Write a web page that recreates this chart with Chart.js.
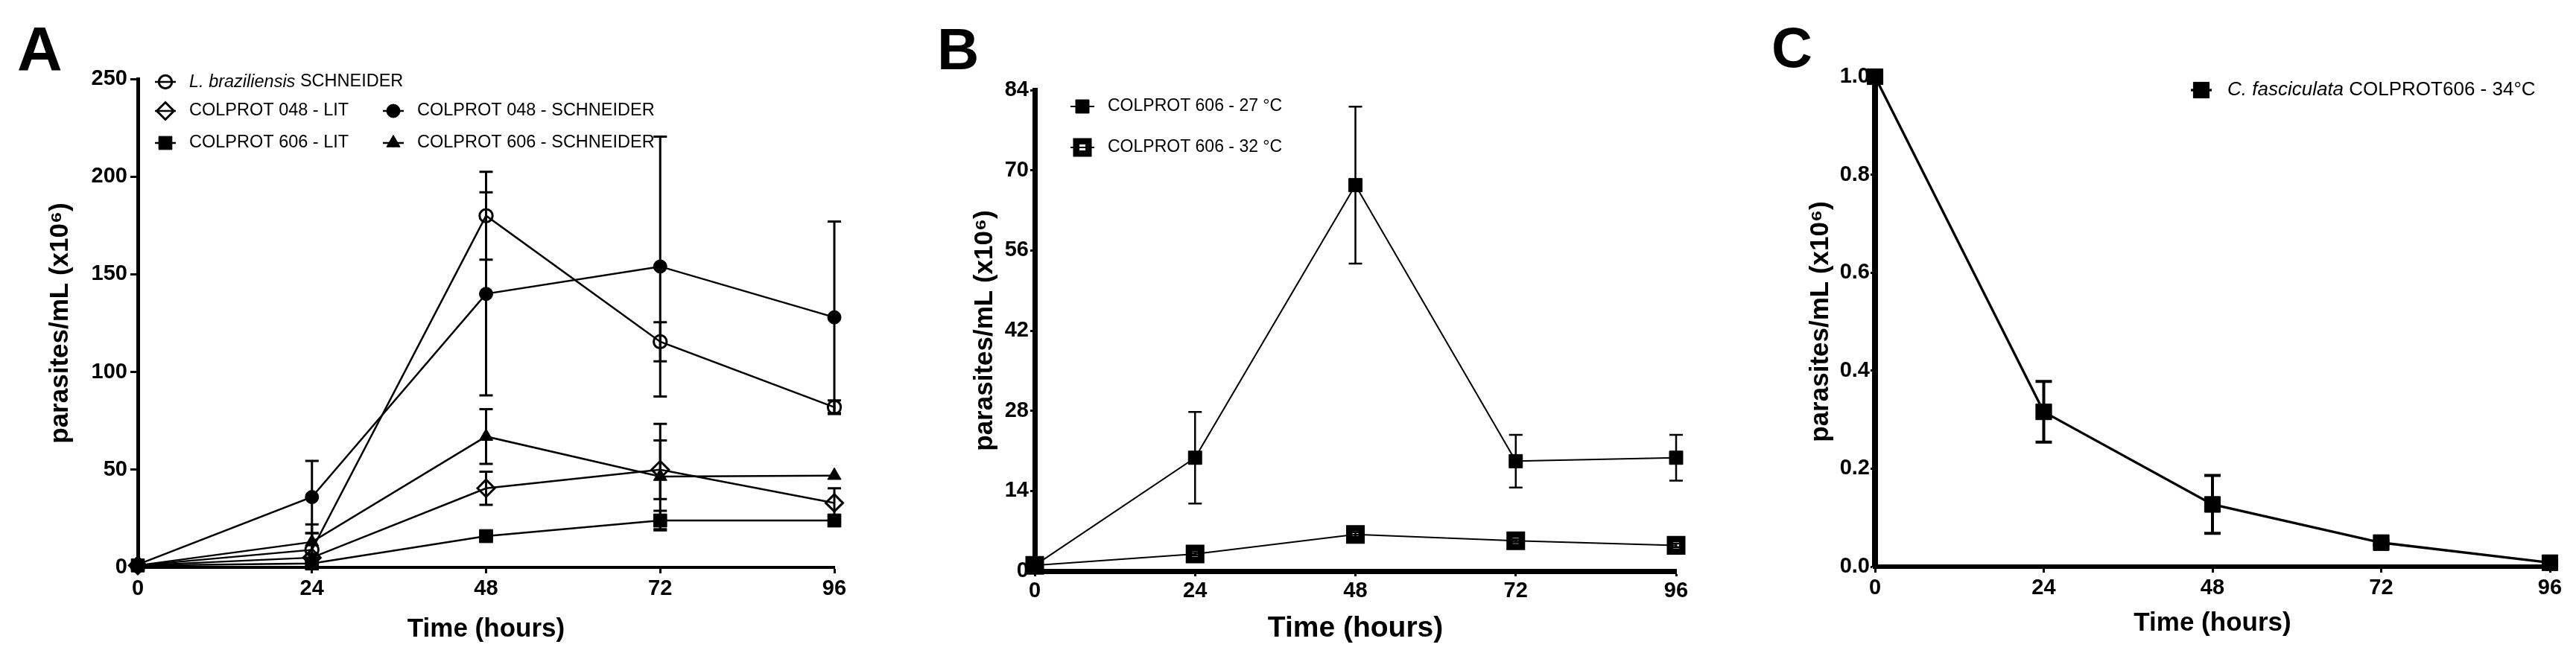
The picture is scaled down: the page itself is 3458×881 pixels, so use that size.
<!DOCTYPE html>
<html>
<head>
<meta charset="utf-8">
<script src="https://cdn.jsdelivr.net/npm/chart.js@4.4.1/dist/chart.umd.min.js"></script>
<style>
  html, body { margin: 0; padding: 0; background: #fff; }
  #wrap { position: relative; width: 3458px; height: 881px; }
  .panel { position: absolute; top: 0; height: 881px; }
</style>
</head>
<body>
<div id="wrap">
  <div class="panel" style="left:0;width:1150px"><canvas id="panelA"></canvas></div>
  <div class="panel" style="left:1150px;width:1150px"><canvas id="panelB"></canvas></div>
  <div class="panel" style="left:2300px;width:1158px"><canvas id="panelC"></canvas></div>
</div>
<script>
// time points (hours), shared by all three panels
const hours = [0, 24, 48, 72, 96];

// panel A - parasites/mL (x10^6), mean and error
const lbrazSchneider = [1, 9, 180, 115.5, 82];
const lbrazSchneiderErr = [0.5, 8.5, 22.5, 10, 3.5];
const c048Lit = [1, 5, 40.5, 50, 33];
const c048LitErr = [0.5, 2, 8.5, 15, 7.5];
const c048Schneider = [1.5, 36, 140, 154, 128];
const c048SchneiderErr = [0.5, 18.5, 52, 66.5, 49];
const c606Lit = [1, 2, 16, 24, 24];
const c606LitErr = [0.5, 0.5, 1, 5, 1];
const c606Schneider = [1, 13, 67, 46.5, 47];
const c606SchneiderErr = [0.5, 9, 14, 27, 0];
const yTicksA = [0, 50, 100, 150, 200, 250];

// panel B
const b27 = [1, 19.8, 67.4, 19.2, 19.8];
const b27Err = [0.3, 8, 13.7, 4.6, 4];
const b32 = [1, 3, 6.4, 5.3, 4.5];
const b32Err = [0, 0.3, 0.4, 0.3, 0.3];
const yTicksB = [0, 14, 28, 42, 56, 70, 84];

// panel C
const cFasc = [1.0, 0.316, 0.127, 0.049, 0.008];
const cFascErr = [0, 0.062, 0.059, 0.004, 0.002];
const yTicksC = [0, 0.2, 0.4, 0.6, 0.8, 1.0];

const FONT = "'Liberation Sans', Arial, sans-serif";
Chart.defaults.font.family = FONT;
Chart.defaults.color = '#000';

function pts(vals) {
  return vals.map((v, i) => ({ x: hours[i], y: v }));
}

// vertical error bars with caps, drawn under the markers
const errorBars = {
  id: 'errorBars',
  beforeDatasetsDraw(chart) {
    const { ctx } = chart;
    const x = chart.scales.x, y = chart.scales.y;
    chart.data.datasets.forEach((ds) => {
      if (!ds.errors) return;
      ctx.save();
      ctx.strokeStyle = '#000';
      ctx.lineWidth = ds.errorWidth;
      ds.data.forEach((p, j) => {
        const e = ds.errors[j];
        if (!e) return;
        const px = x.getPixelForValue(p.x);
        const top = y.getPixelForValue(p.y + e);
        const bot = y.getPixelForValue(p.y - e);
        const w = ds.capWidth / 2;
        ctx.beginPath();
        ctx.moveTo(px, top); ctx.lineTo(px, bot);
        ctx.moveTo(px - w, top); ctx.lineTo(px + w, top);
        ctx.moveTo(px - w, bot); ctx.lineTo(px + w, bot);
        ctx.stroke();
      });
      ctx.restore();
    });
  }
};

// legend with line-through-marker symbols, and the panel letter
const panelDecor = {
  id: 'panelDecor',
  afterDraw(chart, args, opts) {
    const ctx = chart.ctx;
    ctx.save();
    ctx.fillStyle = '#000';
    ctx.textBaseline = 'alphabetic';
    ctx.textAlign = 'left';
    ctx.font = 'bold ' + opts.letterSize + 'px ' + FONT;
    ctx.fillText(opts.letter, opts.letterX, opts.letterY);

    opts.items.forEach((it) => {
      const ds = chart.data.datasets[it.index];
      ctx.strokeStyle = '#000';
      ctx.lineWidth = ds.borderWidth;
      ctx.beginPath();
      ctx.moveTo(it.x - opts.segHalf, it.y);
      ctx.lineTo(it.x + opts.segHalf, it.y);
      ctx.stroke();
      ctx.fillStyle = ds.pointBackgroundColor;
      ctx.strokeStyle = ds.pointBorderColor;
      ctx.lineWidth = ds.pointBorderWidth;
      Chart.helpers.drawPoint(ctx, {
        pointStyle: ds.pointStyle,
        radius: ds.pointRadius,
        rotation: 0,
        borderWidth: ds.pointBorderWidth
      }, it.x, it.y);

      ctx.fillStyle = '#000';
      ctx.textBaseline = 'middle';
      let tx = it.x + opts.textGap;
      const rest = ds.italic ? ds.label.slice(ds.italic.length) : ds.label;
      if (ds.italic) {
        ctx.font = 'italic ' + opts.textSize + 'px ' + FONT;
        ctx.fillText(ds.italic, tx, it.y);
        tx += ctx.measureText(ds.italic).width;
      }
      ctx.font = opts.textSize + 'px ' + FONT;
      ctx.fillText(rest, tx, it.y);
    });
    ctx.restore();
  }
};

function series(label, vals, errs, style) {
  return Object.assign({
    label: label,
    data: pts(vals),
    errors: errs,
    borderColor: '#000',
    pointBorderColor: '#000',
    pointBackgroundColor: '#000',
    pointBorderWidth: 1,
    clip: false,
    tension: 0,
    fill: false
  }, style);
}

function makePanel(id, datasets, p) {
  return new Chart(document.getElementById(id), {
    type: 'line',
    data: { datasets: datasets },
    plugins: [errorBars, panelDecor],
    options: {
      responsive: true,
      maintainAspectRatio: false,
      devicePixelRatio: 1,
      animation: false,
      events: [],
      layout: { padding: p.padding },
      plugins: {
        legend: { display: false },
        tooltip: { enabled: false },
        panelDecor: p.decor
      },
      scales: {
        x: {
          type: 'linear',
          min: 0,
          max: 96,
          afterFit: (s) => { s.height = p.xHeight; },
          afterBuildTicks: (s) => { s.ticks = hours.map((v) => ({ value: v })); },
          ticks: { font: { size: 29, weight: 'bold' }, padding: p.xTickPad, maxRotation: 0 },
          grid: { drawOnChartArea: false, tickLength: p.xTickLen, tickWidth: 3, tickColor: '#000', color: '#000' },
          border: { display: true, width: p.xBorder, color: '#000' },
          title: { display: true, text: 'Time (hours)', font: { size: p.xTitleSize, weight: 'bold' }, padding: { top: 0, bottom: p.xTitlePad } }
        },
        y: {
          type: 'linear',
          min: p.yTicks[0],
          max: p.yTicks[p.yTicks.length - 1],
          afterFit: (s) => { s.width = p.yWidth; },
          afterBuildTicks: (s) => { s.ticks = p.yTicks.map((v) => ({ value: v })); },
          ticks: { font: { size: 29, weight: 'bold' }, padding: p.yTickPad, callback: p.yFmt },
          grid: { drawOnChartArea: false, tickLength: p.yTickLen, tickWidth: 3, tickColor: '#000', color: '#000' },
          border: { display: true, width: p.yBorder, color: '#000' },
          title: { display: true, text: 'parasites/mL (x10⁶)', font: { size: 35, weight: 'bold' }, padding: { top: p.yTitlePad, bottom: 0 } }
        }
      }
    }
  });
}

// ---- panel A ----
makePanel('panelA', [
  series('L. braziliensis SCHNEIDER', lbrazSchneider, lbrazSchneiderErr,
    { pointStyle: 'circle', pointRadius: 8.7, pointBackgroundColor: 'rgba(0,0,0,0)', pointBorderWidth: 3, borderWidth: 2.5, errorWidth: 3, capWidth: 18, italic: 'L. braziliensis' }),
  series('COLPROT 048 - LIT', c048Lit, c048LitErr,
    { pointStyle: 'rectRot', pointRadius: 11.5, pointBackgroundColor: 'rgba(0,0,0,0)', pointBorderWidth: 3, borderWidth: 2.5, errorWidth: 3, capWidth: 18 }),
  series('COLPROT 048 - SCHNEIDER', c048Schneider, c048SchneiderErr,
    { pointStyle: 'circle', pointRadius: 9, borderWidth: 2.5, errorWidth: 3, capWidth: 18 }),
  series('COLPROT 606 - LIT', c606Lit, c606LitErr,
    { pointStyle: 'rect', pointRadius: 12.5, borderWidth: 2.5, errorWidth: 3, capWidth: 18 }),
  series('COLPROT 606 - SCHNEIDER', c606Schneider, c606SchneiderErr,
    { pointStyle: 'triangle', pointRadius: 10.5, borderWidth: 2.5, errorWidth: 3, capWidth: 18 })
], {
  padding: { left: 40, right: 30, top: 106, bottom: 10 },
  yWidth: 145, xHeight: 109,
  yTicks: yTicksA, yFmt: (v) => v,
  yTickLen: 10, yTickPad: 4, xTickLen: 8, xTickPad: 4,
  yBorder: 5, xBorder: 4,
  yTitlePad: 20, xTitleSize: 35, xTitlePad: 5,
  decor: {
    letter: 'A', letterX: 23, letterY: 95, letterSize: 84,
    textSize: 23.5, textGap: 32, segHalf: 14,
    items: [
      { index: 0, x: 222, y: 110 },
      { index: 1, x: 222, y: 149 },
      { index: 2, x: 528, y: 149 },
      { index: 3, x: 222, y: 192 },
      { index: 4, x: 528, y: 192 }
    ]
  }
});

// ---- panel B ----
makePanel('panelB', [
  series('COLPROT 606 - 27 °C', b27, b27Err,
    { pointStyle: 'rect', pointRadius: 12.7, borderWidth: 2, errorWidth: 2.5, capWidth: 18 }),
  series('COLPROT 606 - 32 °C', b32, b32Err,
    { pointStyle: 'rect', pointRadius: 11.7, pointBackgroundColor: 'rgba(0,0,0,0)', pointBorderWidth: 8.5, borderWidth: 2, errorWidth: 2.5, capWidth: 18 })
], {
  padding: { left: 130, right: 50, top: 121, bottom: 10 },
  yWidth: 109, xHeight: 104,
  yTicks: yTicksB, yFmt: (v) => v,
  yTickLen: 6, yTickPad: 2, xTickLen: 7, xTickPad: 3,
  yBorder: 7, xBorder: 7,
  yTitlePad: 21, xTitleSize: 39, xTitlePad: 3,
  decor: {
    letter: 'B', letterX: 108, letterY: 93, letterSize: 78,
    textSize: 23, textGap: 34, segHalf: 16,
    items: [
      { index: 0, x: 303, y: 143 },
      { index: 1, x: 303, y: 198 }
    ]
  }
});

// ---- panel C ----
makePanel('panelC', [
  series('C. fasciculata COLPROT606 - 34°C', cFasc, cFascErr,
    { pointStyle: 'rect', pointRadius: 15, borderWidth: 3.3, errorWidth: 4, capWidth: 22, italic: 'C. fasciculata' })
], {
  padding: { left: 100, right: 35, top: 103, bottom: 10 },
  yWidth: 117, xHeight: 110,
  yTicks: yTicksC, yFmt: (v) => v.toFixed(1),
  yTickLen: 6, yTickPad: 1, xTickLen: 8, xTickPad: 4,
  yBorder: 8, xBorder: 6,
  yTitlePad: 23, xTitleSize: 35, xTitlePad: 13,
  decor: {
    letter: 'C', letterX: 78, letterY: 90, letterSize: 76,
    textSize: 26, textGap: 35, segHalf: 14,
    items: [
      { index: 0, x: 655, y: 121 }
    ]
  }
});
</script>
</body>
</html>
